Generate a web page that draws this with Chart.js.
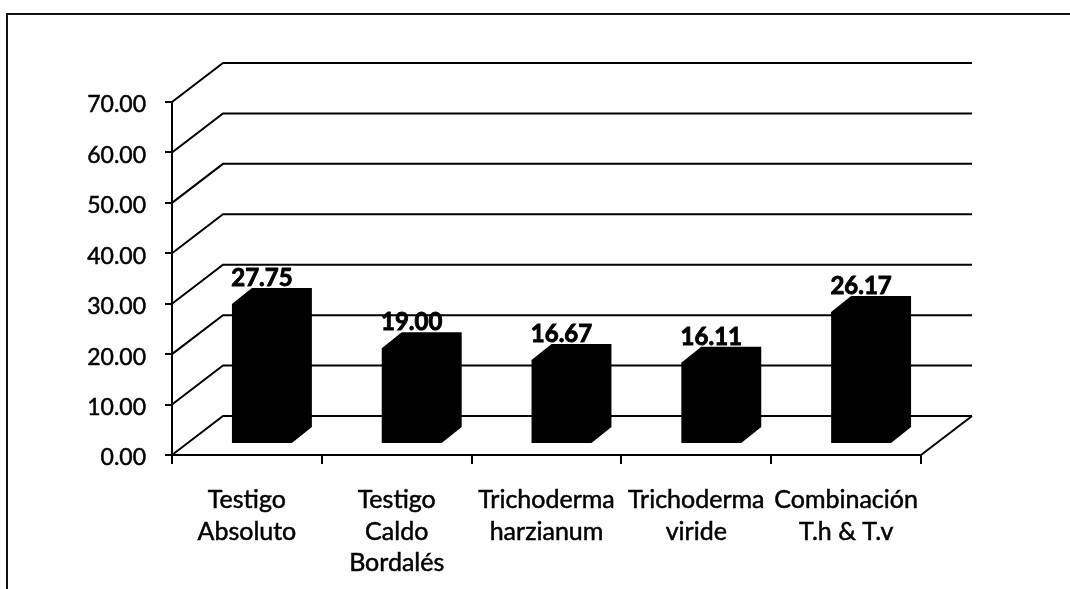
<!DOCTYPE html>
<html>
<head>
<meta charset="utf-8">
<style>
  html, body { margin: 0; padding: 0; background: #fff; }
  #wrap { width: 1070px; height: 589px; }
</style>
<script src="https://cdn.jsdelivr.net/npm/chart.js@4"></script>
</head>
<body>
<div id="wrap"><canvas id="chart" width="1070" height="589"></canvas></div>
<script>
  const categories = [
    ['Testigo', 'Absoluto'],
    ['Testigo', 'Caldo', 'Bordalés'],
    ['Trichoderma', 'harzianum'],
    ['Trichoderma', 'viride'],
    ['Combinación', 'T.h & T.v']
  ];
  const values = [27.75, 19.00, 16.67, 16.11, 26.17];

  // desplazamiento de la pared del fondo y de las barras (falso 3D)
  const wallDx = 51, wallDy = -39;
  const barDx = 15, barDy = -11;
  const depthDx = 20, depthDy = -16;

  const wall3d = {
    id: 'wall3d',
    beforeDraw(chart) {
      const { ctx, chartArea: a, scales: { y } } = chart;
      ctx.save();
      // marco de la figura (sin lado derecho ni inferior)
      ctx.strokeStyle = '#111';
      ctx.lineWidth = 2;
      ctx.beginPath();
      ctx.moveTo(7, 589);
      ctx.lineTo(7, 14);
      ctx.lineTo(1070, 14);
      ctx.stroke();
      // lineas de rejilla: costado y fondo
      ctx.strokeStyle = '#000';
      ctx.lineWidth = 2;
      y.ticks.forEach(t => {
        const py = y.getPixelForValue(t.value);
        ctx.beginPath();
        ctx.moveTo(a.left, py);
        ctx.lineTo(a.left + wallDx, py + wallDy);
        ctx.lineTo(a.right + wallDx, py + wallDy);
        ctx.stroke();
      });
      // piso
      const y0 = y.getPixelForValue(0);
      ctx.beginPath();
      ctx.moveTo(a.right, y0);
      ctx.lineTo(a.right + wallDx, y0 + wallDy);
      ctx.stroke();
      ctx.restore();
    }
  };

  const bars3d = {
    id: 'bars3d',
    beforeDatasetsDraw(chart) {
      const { ctx } = chart;
      ctx.save();
      ctx.translate(barDx, barDy);
      ctx.fillStyle = '#000';
      chart.getDatasetMeta(0).data.forEach(bar => {
        const l = bar.x - bar.width / 2, r = bar.x + bar.width / 2;
        ctx.beginPath();
        ctx.moveTo(l, bar.y);
        ctx.lineTo(l + depthDx, bar.y + depthDy);
        ctx.lineTo(r + depthDx, bar.y + depthDy);
        ctx.lineTo(r + depthDx, bar.base + depthDy);
        ctx.lineTo(r, bar.base);
        ctx.closePath();
        ctx.fill();
      });
    },
    afterDatasetsDraw(chart) {
      const { ctx } = chart;
      ctx.restore();
      // etiquetas de valor
      ctx.save();
      ctx.font = 'bold 24px Lato';
      ctx.fillStyle = '#000';
      ctx.strokeStyle = '#000';
      ctx.lineWidth = 0.9;
      ctx.textAlign = 'center';
      ctx.textBaseline = 'alphabetic';
      chart.getDatasetMeta(0).data.forEach((bar, i) => {
        const label = values[i].toFixed(2);
        ctx.fillText(label, bar.x + barDx, bar.y + barDy - 18);
        ctx.strokeText(label, bar.x + barDx, bar.y + barDy - 18);
      });
      ctx.restore();
    }
  };

  new Chart(document.getElementById('chart'), {
    type: 'bar',
    data: {
      labels: categories,
      datasets: [{
        data: values,
        backgroundColor: '#000',
        borderWidth: 0,
        barPercentage: 0.4,
        categoryPercentage: 1
      }]
    },
    options: {
      responsive: false,
      animation: false,
      layout: { padding: { top: 102, right: 149, left: 0, bottom: 0 } },
      plugins: { legend: { display: false }, tooltip: { enabled: false } },
      scales: {
        y: {
          min: 0,
          max: 70,
          afterFit(s) { s.width = 172; },
          grid: { drawOnChartArea: false, drawTicks: true, tickLength: 7, color: '#000', lineWidth: 2 },
          border: { display: true, color: '#000', width: 2 },
          ticks: {
            stepSize: 10,
            padding: 19,
            labelOffset: 3,
            color: '#000',
            textStrokeColor: '#000',
            textStrokeWidth: 0.5,
            font: { family: 'Lato', size: 23 },
            callback: v => v.toFixed(2)
          }
        },
        x: {
          afterFit(s) { s.height = 134; },
          grid: { drawOnChartArea: false, drawTicks: true, tickLength: 9, color: '#000', lineWidth: 2 },
          border: { display: true, color: '#000', width: 2 },
          ticks: {
            maxRotation: 0,
            autoSkip: false,
            padding: 20,
            color: '#000',
            textStrokeColor: '#000',
            textStrokeWidth: 0.5,
            font: { family: 'Lato', size: 25, lineHeight: 1.27 }
          }
        }
      }
    },
    plugins: [wall3d, bars3d]
  });
</script>
</body>
</html>
